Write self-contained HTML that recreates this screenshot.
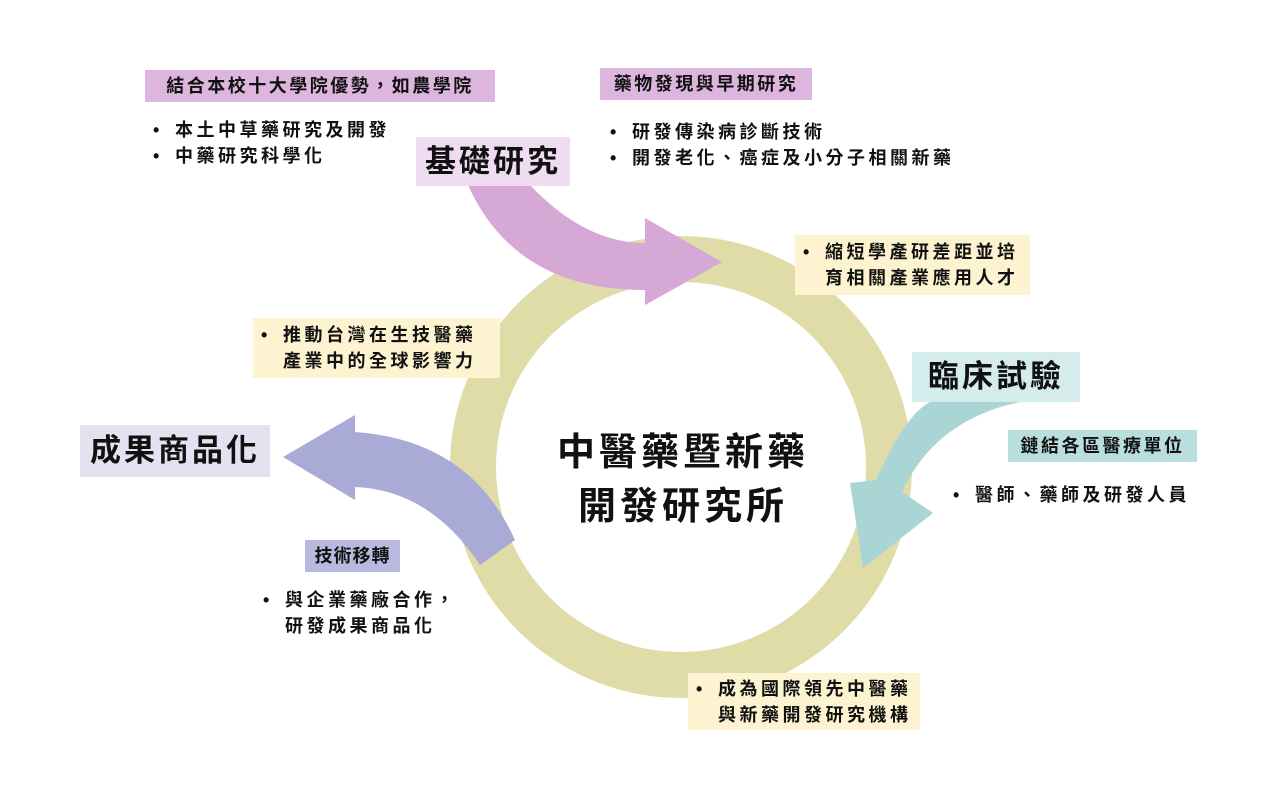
<!DOCTYPE html>
<html><head><meta charset="utf-8"><style>
body{margin:0;width:1280px;height:800px;background:#fff;position:relative;overflow:hidden;font-family:"Liberation Sans","Noto Sans CJK TC",sans-serif;color:#111}
.b{position:absolute;box-sizing:border-box;white-space:nowrap}
.t{position:absolute;white-space:nowrap;font-size:18px;line-height:26px;font-weight:bold;letter-spacing:3.5px}
.t i{font-style:normal;display:inline-block;width:22px;letter-spacing:0}
.h{font-size:18px;font-weight:bold;line-height:32px;text-align:center;letter-spacing:2.5px}
.g{font-size:31px;font-weight:bold;text-align:center;letter-spacing:3px}
svg{position:absolute;left:0;top:0}
</style></head><body>
<svg width="1280" height="800">
<circle cx="681" cy="467" r="208" fill="none" stroke="#e0dca8" stroke-width="46"/>
<path d="M530,185 Q585,243 645,243 L645,218 L722,262 L645,305 L645,290 Q515,290 468,185 Z" fill="#d5a8d5"/>
<path d="M1020,402 Q935,420 902,492 L933,513 L863,568 L850,483 L876,480 Q905,415 930,402 Z" fill="#a9d5d5"/>
<path d="M515,540 Q470,440 355,432 L355,415 L283,457 L355,500 L355,487 Q430,490 480,565 Z" fill="#aaaad6"/>
</svg>
<div class="b h" style="left:145px;top:70px;width:350px;height:32px;background:#dcb6dc">結合本校十大學院優勢，如農學院</div>
<div class="t" style="left:153px;top:117px"><i>•</i>本土中草藥研究及開發<br><i>•</i>中藥研究科學化</div>
<div class="b g" style="left:416px;top:137px;width:154px;height:49px;background:#f0dcf0;line-height:49px">基礎研究</div>
<div class="b h" style="left:600px;top:68px;width:212px;height:32px;background:#dcb6dc">藥物發現與早期研究</div>
<div class="t" style="left:610px;top:119px"><i>•</i>研發傳染病診斷技術<br><i>•</i>開發老化、癌症及小分子相關新藥</div>
<div class="b t" style="left:795px;top:235px;width:235px;height:60px;background:#fdf3d0;padding:4px 0 0 8px"><i>•</i>縮短學產研差距並培<br><i></i>育相關產業應用人才</div>
<div class="b t" style="left:253px;top:318px;width:247px;height:60px;background:#fdf3d0;padding:4px 0 0 8px"><i>•</i>推動台灣在生技醫藥<br><i></i>產業中的全球影響力</div>
<div class="b g" style="left:912px;top:352px;width:168px;height:50px;background:#d4ecec;line-height:50px">臨床試驗</div>
<div class="b h" style="left:1008px;top:430px;width:189px;height:32px;background:#b9dede">鏈結各區醫療單位</div>
<div class="t" style="left:953px;top:482px"><i>•</i>醫師、藥師及研發人員</div>
<div class="b g" style="left:80px;top:425px;width:190px;height:52px;background:#e3e2f0;line-height:52px">成果商品化</div>
<div class="b h" style="left:305px;top:540px;width:95px;height:32px;background:#b9b8dd;letter-spacing:1px">技術移轉</div>
<div class="t" style="left:263px;top:587px"><i>•</i>與企業藥廠合作，<br><i></i>研發成果商品化</div>
<div class="b t" style="left:688px;top:673px;width:232px;height:57px;background:#fdf3d0;padding:3px 0 0 8px"><i>•</i>成為國際領先中醫藥<br><i></i>與新藥開發研究機構</div>
<div class="b" style="left:523px;top:426px;width:320px;font-size:38px;font-weight:bold;letter-spacing:4px;line-height:54px;text-align:center">中醫藥暨新藥<br>開發研究所</div>
</body></html>
